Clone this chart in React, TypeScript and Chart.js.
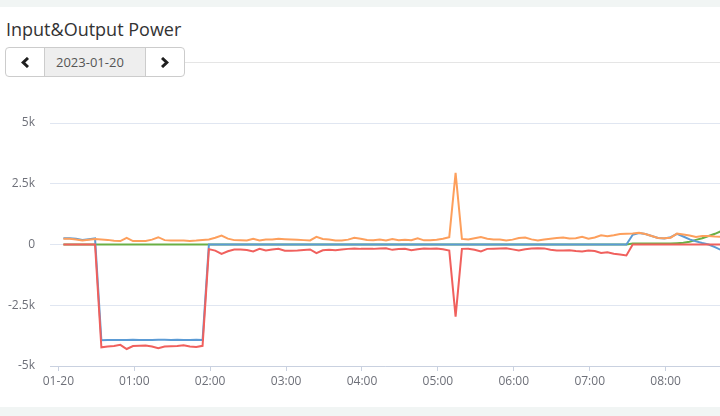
import React, { useEffect, useRef } from "react";
import { Chart, registerables } from "chart.js";

Chart.register(...registerables);

// time of first sample (minutes after 00:00) and sampling step (minutes)
const START_MIN = 4;
const STEP_MIN = 5;

const ORANGE_VALUES = [
  240, 235, 210, 170, 200, 230, 210, 190, 150, 140,
  275, 140, 140, 140, 200, 300, 180, 165, 165, 160,
  140, 160, 190, 210, 280, 370, 240, 180, 170, 165,
  235, 165, 205, 210, 235, 220, 205, 195, 180, 165,
  315, 230, 205, 165, 165, 200, 275, 240, 185, 175,
  205, 170, 225, 180, 200, 180, 255, 170, 175, 200,
  235, 300, 2950, 230, 210, 260, 310, 240, 210, 210,
  170, 200, 270, 290, 210, 170, 210, 240, 270, 290,
  250, 260, 320, 240, 290, 380, 340, 380, 430, 440,
  450, 480, 430, 350, 270, 260, 280, 450, 410, 370,
  310, 350, 350, 330, 320,
];

const BLUE_VALUES = [
  260, 260, 240, 190, 220, 250,
  -3940, -3930, -3935, -3925, -3930, -3920, -3930, -3925, -3930, -3920,
  -3915, -3925, -3920, -3930, -3925, -3920, -3930,
  0, 0, 0, 0, 0, 0, 0, 0, 0, 0,
  0, 0, 0, 0, 0, 0, 0, 0, 0, 0,
  0, 0, 0, 0, 0, 0, 0, 0, 0, 0,
  0, 0, 0, 0, 0, 0, 0, 0, 0, 0,
  0, 0, 0, 0, 0, 0, 0, 0, 0, 0,
  0, 0, 0, 0, 0, 0, 0, 0, 0, 0,
  0, 0, 0, 0, 0, 0, 0,
  400, 470, 430, 350, 270, 250, 300, 440, 330, 210,
  130, 60, 0, -110, -230,
];

const GREEN_VALUES = [
  0, 0, 0, 0, 0, 0, 0, 0, 0, 0,
  0, 0, 0, 0, 0, 0, 0, 0, 0, 0,
  0, 0, 0, 0, 0, 0, 0, 0, 0, 0,
  0, 0, 0, 0, 0, 0, 0, 0, 0, 0,
  0, 0, 0, 0, 0, 0, 0, 0, 0, 0,
  0, 0, 0, 0, 0, 0, 0, 0, 0, 0,
  0, 0, 0, 0, 0, 0, 0, 0, 0, 0,
  0, 0, 0, 0, 0, 0, 0, 0, 0, 0,
  0, 0, 0, 0, 0, 0, 0, 0, 0, 0,
  40, 40, 40, 40, 40, 40, 45, 55, 70, 110,
  190, 260, 350, 440, 550,
];

const RED_VALUES = [
  0, 0, 0, 0, 0, 0,
  -4230, -4200, -4180, -4130, -4300, -4180, -4170, -4160, -4200, -4270,
  -4200, -4190, -4180, -4150, -4200, -4220, -4170,
  -190, -250, -385, -280, -206, -210, -230, -289, -180, -248,
  -210, -180, -260, -260, -250, -230, -206, -358, -240, -220,
  -240, -210, -180, -165, -180, -180, -180, -160, -155, -220,
  -190, -180, -240, -200, -160, -170, -165, -200, -250,
  -2970,
  -180, -175, -220, -289, -180, -175, -165, -150, -200, -245,
  -200, -165, -150, -160, -220, -245, -250, -240, -270, -285,
  -250, -270, -350, -320, -380, -410, -450,
  0, 0, 0, 0, 0, 0, 0, 0, 0, 0,
  0, 0, 0, 0, 0,
];

const X_TICKS = [0, 60, 120, 180, 240, 300, 360, 420, 480];
const X_TICK_LABELS = ["01-20", "01:00", "02:00", "03:00", "04:00", "05:00", "06:00", "07:00", "08:00"];
const Y_TICKS = [-5000, -2500, 0, 2500, 5000];
const Y_TICK_LABELS = ["-5k", "-2.5k", "0", "2.5k", "5k"];

const X_MIN = -6.6;
const X_MAX = 523;

const FONT = "'Open Sans', 'Noto Sans', sans-serif";
const LABEL_COLOR = "#6e7079";

function Chevron({ dir }: { dir: "left" | "right" }) {
  const pts = dir === "left" ? "7,1 2.2,5.5 7,10" : "1,1 5.8,5.5 1,10";
  return (
    <svg width="8" height="11" viewBox="0 0 8 11" style={{ display: "block" }}>
      <polyline points={pts} fill="none" stroke="#1f1f1f" strokeWidth="3" />
    </svg>
  );
}

export default function App() {
  const canvasRef = useRef<HTMLCanvasElement>(null);

  useEffect(() => {
    const toPoints = (arr: number[]) =>
      arr.map((y, i) => ({ x: START_MIN + i * STEP_MIN, y }));
    const common = {
      borderWidth: 2,
      pointRadius: 0,
      pointHoverRadius: 0,
      tension: 0,
      fill: false,
    };
    const chart = new Chart(canvasRef.current as HTMLCanvasElement, {
      type: "line",
      data: {
        datasets: [
          { label: "Red", data: toPoints(RED_VALUES), borderColor: "#f0605d", ...common },
          { label: "Orange", data: toPoints(ORANGE_VALUES), borderColor: "#fd9f5c", ...common },
          { label: "Blue", data: toPoints(BLUE_VALUES), borderColor: "#5b9bd5", ...common },
          { label: "Green", data: toPoints(GREEN_VALUES), borderColor: "#6aaf45", ...common },
        ],
      },
      options: {
        animation: false,
        responsive: false,
        maintainAspectRatio: false,
        events: [],
        layout: { padding: { top: 23, left: 0, right: 0, bottom: 0 } },
        plugins: { legend: { display: false }, tooltip: { enabled: false } },
        scales: {
          x: {
            type: "linear",
            min: X_MIN,
            max: X_MAX,
            afterBuildTicks: (scale: any) => {
              scale.ticks = X_TICKS.map((v) => ({ value: v }));
            },
            afterFit: (scale: any) => {
              scale.height = 34;
            },
            ticks: {
              autoSkip: false,
              maxRotation: 0,
              padding: 3,
              color: LABEL_COLOR,
              font: { size: 12, family: FONT },
              callback: (v: any) => {
                const idx = X_TICKS.indexOf(Number(v));
                return idx >= 0 ? X_TICK_LABELS[idx] : "";
              },
            },
            grid: { drawOnChartArea: false, drawTicks: true, tickLength: 5, color: "#c9d1e0" },
            border: { display: true, color: "#c9d1e0", width: 1 },
          },
          y: {
            type: "linear",
            min: -5000,
            max: 5000,
            afterBuildTicks: (scale: any) => {
              scale.ticks = Y_TICKS.map((v) => ({ value: v }));
            },
            afterFit: (scale: any) => {
              scale.width = 50;
            },
            ticks: {
              padding: 15,
              color: LABEL_COLOR,
              font: { size: 12, family: FONT },
              callback: (v: any) => {
                const idx = Y_TICKS.indexOf(Number(v));
                return idx >= 0 ? Y_TICK_LABELS[idx] : "";
              },
            },
            grid: { drawTicks: false, color: "#e0e6f1" },
            border: { display: false },
          },
        },
      },
    } as any);
    return () => chart.destroy();
  }, []);

  return (
    <div
      style={{
        position: "fixed",
        left: 0,
        top: 0,
        width: 720,
        height: 416,
        overflow: "hidden",
        background: "#f1f5f4",
        fontFamily: FONT,
      }}
    >
      <div
        style={{
          position: "absolute",
          left: 0,
          top: 7,
          width: 720,
          height: 400,
          background: "#ffffff",
        }}
      />
      <div
        style={{
          position: "absolute",
          left: 6,
          top: 20,
          fontSize: 18,
          lineHeight: "18px",
          color: "#333",
          whiteSpace: "nowrap",
        }}
      >
        Input&amp;Output Power
      </div>
      <div
        style={{
          position: "absolute",
          left: 185,
          top: 62,
          width: 535,
          height: 1,
          background: "#e5e5e5",
        }}
      />
      <div
        style={{
          position: "absolute",
          left: 5,
          top: 47,
          width: 180,
          height: 30,
          boxSizing: "border-box",
          border: "1px solid #ccc",
          borderRadius: 4,
          background: "#fff",
          display: "flex",
          overflow: "hidden",
        }}
      >
        <div style={{ width: 38, display: "flex", alignItems: "center", justifyContent: "center" }}>
          <Chevron dir="left" />
        </div>
        <div
          style={{
            width: 102,
            boxSizing: "border-box",
            paddingLeft: 11,
            borderLeft: "1px solid #ccc",
            borderRight: "1px solid #ccc",
            background: "#eeeeee",
            display: "flex",
            alignItems: "center",
            justifyContent: "flex-start",
            fontSize: 13,
            color: "#555",
          }}
        >
          2023-01-20
        </div>
        <div style={{ flex: 1, display: "flex", alignItems: "center", justifyContent: "center" }}>
          <Chevron dir="right" />
        </div>
      </div>
      <canvas
        ref={canvasRef}
        width={720}
        height={300}
        style={{ position: "absolute", left: 0, top: 100, width: 720, height: 300 }}
      />
    </div>
  );
}
